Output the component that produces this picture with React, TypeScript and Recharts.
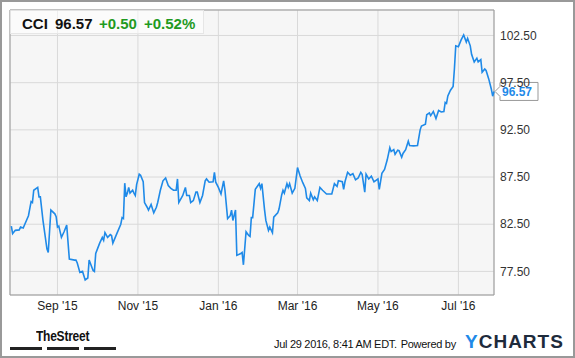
import { LineChart, Line, XAxis, YAxis, CartesianGrid, ReferenceArea, ReferenceDot } from 'recharts'

// daily closes for CCI
const dates = [
  '2015-07-28', '2015-07-29', '2015-07-31', '2015-08-03', '2015-08-04', '2015-08-06', '2015-08-10', '2015-08-12',
  '2015-08-13', '2015-08-14', '2015-08-17', '2015-08-18', '2015-08-19', '2015-08-21', '2015-08-24', '2015-08-25',
  '2015-08-27', '2015-08-30', '2015-08-31', '2015-09-01', '2015-09-02', '2015-09-04', '2015-09-06', '2015-09-08',
  '2015-09-10', '2015-09-14', '2015-09-15', '2015-09-16', '2015-09-18', '2015-09-20', '2015-09-22', '2015-09-24',
  '2015-09-25', '2015-09-28', '2015-09-29', '2015-09-30', '2015-10-03', '2015-10-05', '2015-10-06', '2015-10-07',
  '2015-10-09', '2015-10-11', '2015-10-12', '2015-10-13', '2015-10-16', '2015-10-19', '2015-10-20', '2015-10-21',
  '2015-10-22', '2015-10-23', '2015-10-24', '2015-10-25', '2015-10-26', '2015-10-28', '2015-10-29', '2015-10-30',
  '2015-10-31', '2015-11-02', '2015-11-03', '2015-11-05', '2015-11-06', '2015-11-08', '2015-11-09', '2015-11-11',
  '2015-11-13', '2015-11-15', '2015-11-16', '2015-11-18', '2015-11-20', '2015-11-22', '2015-11-24', '2015-11-26',
  '2015-11-28', '2015-11-30', '2015-12-01', '2015-12-02', '2015-12-05', '2015-12-07', '2015-12-08', '2015-12-10',
  '2015-12-11', '2015-12-13', '2015-12-15', '2015-12-16', '2015-12-18', '2015-12-20', '2015-12-22', '2015-12-23',
  '2015-12-25', '2015-12-28', '2015-12-29', '2015-12-30', '2016-01-01', '2016-01-03', '2016-01-05', '2016-01-06',
  '2016-01-08', '2016-01-10', '2016-01-11', '2016-01-12', '2016-01-14', '2016-01-15', '2016-01-18', '2016-01-19',
  '2016-01-20', '2016-01-22', '2016-01-24', '2016-01-25', '2016-01-26', '2016-01-27', '2016-01-29', '2016-01-31',
  '2016-02-01', '2016-02-02', '2016-02-03', '2016-02-05', '2016-02-06', '2016-02-08', '2016-02-09', '2016-02-11',
  '2016-02-12', '2016-02-15', '2016-02-16', '2016-02-18', '2016-02-19', '2016-02-20', '2016-02-22', '2016-02-23',
  '2016-02-24', '2016-02-26', '2016-02-28', '2016-03-01', '2016-03-03', '2016-03-05', '2016-03-07', '2016-03-08',
  '2016-03-10', '2016-03-11', '2016-03-13', '2016-03-14', '2016-03-16', '2016-03-18', '2016-03-20', '2016-03-23',
  '2016-03-27', '2016-03-29', '2016-03-31', '2016-04-01', '2016-04-04', '2016-04-05', '2016-04-06', '2016-04-08',
  '2016-04-10', '2016-04-12', '2016-04-14', '2016-04-16', '2016-04-18', '2016-04-19', '2016-04-21', '2016-04-22',
  '2016-04-24', '2016-04-26', '2016-04-28', '2016-04-29', '2016-05-01', '2016-05-02', '2016-05-04', '2016-05-06',
  '2016-05-08', '2016-05-10', '2016-05-11', '2016-05-13', '2016-05-14', '2016-05-16', '2016-05-17', '2016-05-19',
  '2016-05-20', '2016-05-22', '2016-05-24', '2016-05-25', '2016-05-28', '2016-05-31', '2016-06-02', '2016-06-03',
  '2016-06-06', '2016-06-07', '2016-06-09', '2016-06-10', '2016-06-12', '2016-06-14', '2016-06-16', '2016-06-18',
  '2016-06-20', '2016-06-21', '2016-06-22', '2016-06-23', '2016-06-25', '2016-06-27', '2016-06-28', '2016-06-29',
  '2016-07-01', '2016-07-03', '2016-07-05', '2016-07-07', '2016-07-08', '2016-07-10', '2016-07-11', '2016-07-13',
  '2016-07-15', '2016-07-16', '2016-07-18', '2016-07-19', '2016-07-21', '2016-07-22', '2016-07-24', '2016-07-26',
  '2016-07-27', '2016-07-28',
]

const prices = [
  82.3, 81.5, 81.85, 81.9, 82.2, 82.1, 83.4, 84.9,
  84.8, 86.1, 86.4, 85.4, 85.4, 82.9, 79.9, 79.5,
  84.0, 83.6, 83.3, 82.2, 82.3, 81.1, 81.7, 82.4,
  78.8, 78.7, 78.7, 78.4, 77.4, 77.5, 76.6, 76.8,
  78.7, 77.6, 77.5, 79.4, 80.5, 81.1, 80.8, 81.6,
  81.1, 81.4, 81.3, 80.5, 81.5, 82.5, 83.2, 83.1,
  86.85, 85.4, 85.8, 86.4, 85.8, 86.1, 85.8, 85.55,
  86.7, 87.8, 87.7, 87.0, 84.8, 84.3, 84.0, 84.6,
  83.7, 84.3, 84.8, 86.1, 87.1, 87.4, 86.6, 86.3,
  86.1, 86.1, 87.3, 84.8, 85.55, 86.4, 85.55, 85.55,
  84.8, 85.0, 85.9, 85.9, 84.8, 85.55, 87.1, 87.3,
  86.95, 87.0, 88.0, 86.95, 86.4, 85.7, 87.1, 86.1,
  83.1, 83.4, 84.0, 82.9, 84.0, 79.2, 79.4, 79.5,
  78.2, 81.7, 81.3, 81.2, 83.2, 83.2, 86.2, 86.6,
  86.8, 86.3, 86.8, 84.05, 82.9, 81.85, 82.2, 81.6,
  83.25, 83.7, 84.1, 85.6, 86.1, 85.8, 86.8, 86.4,
  86.8, 85.8, 86.3, 88.5, 87.6, 86.9, 86.3, 85.3,
  85.0, 85.8, 85.1, 85.4, 85.0, 86.4, 86.1, 85.7,
  85.7, 86.8, 86.5, 87.1, 87.0, 86.2, 87.0, 88.0,
  87.7, 87.85, 87.2, 87.4, 88.0, 87.8, 85.9, 87.8,
  87.3, 87.6, 87.0, 87.1, 87.3, 86.2, 87.9, 88.3,
  89.3, 90.6, 90.2, 90.4, 89.9, 90.35, 90.3, 89.6,
  90.0, 90.4, 91.3, 90.85, 90.8, 90.85, 92.5, 92.9,
  93.1, 94.1, 94.3, 94.0, 94.45, 93.7, 94.55, 94.4,
  94.45, 95.4, 95.3, 96.1, 96.7, 97.1, 99.0, 101.4,
  101.3, 102.0, 102.55, 101.8, 102.2, 101.4, 100.5, 99.7,
  100.1, 99.7, 99.95, 98.6, 98.95, 98.8, 97.9, 96.8,
  96.07, 96.57,
]

const monthTicks = ['2015-09-01', '2015-11-01', '2016-01-01', '2016-03-01', '2016-05-01', '2016-07-01']
const priceTicks = [77.5, 82.5, 87.5, 92.5, 97.5, 102.5]
const monthNames = ['Jan', 'Feb', 'Mar', 'Apr', 'May', 'Jun', 'Jul', 'Aug', 'Sep', 'Oct', 'Nov', 'Dec']

const toTime = (d: string) => {
  const [y, m, day] = d.split('-').map(Number)
  return Date.UTC(y, m - 1, day)
}

const data = dates.map((d, i) => ({ t: toTime(d), price: prices[i] }))
const xDomain = [toTime('2015-07-27'), toTime('2016-07-28')]
const yDomain = [75, 105.2]
const last = data[data.length - 1]

const FONT = '"Liberation Sans", Arial, sans-serif'
const BLUE = '#1f8ae8'
const GREEN = '#1f9a1f'

const fmtMonth = (t: number) => {
  const d = new Date(t)
  return `${monthNames[d.getUTCMonth()]} '${String(d.getUTCFullYear()).slice(2)}`
}

const LastTag = (props: any) => {
  const { cx, cy } = props
  if (cx == null || cy == null) return null
  const x = cx
  const y = cy
  return (
    <g>
      <path
        d={`M${x + 1},${y} L${x + 6},${y - 5} L${x + 6},${y - 9} L${x + 44},${y - 9} L${x + 44},${y + 9} L${x + 6},${y + 9} L${x + 6},${y + 5} Z`}
        fill="#fff"
        stroke="#999"
      />
      <text x={x + 8} y={y + 4.5} fill={BLUE} fontSize={12} fontWeight="bold" fontFamily={FONT}>
        {last.price.toFixed(2)}
      </text>
    </g>
  )
}

export default function App() {
  return (
    <div style={{ position: 'relative', width: 575, height: 358, background: '#fff', fontFamily: FONT }}>
      <style>{'body{margin:0}'}</style>
      <LineChart width={575} height={358} data={data} margin={{ top: 10, left: 10, right: 0, bottom: 0 }}>
        <CartesianGrid stroke="#d9d9d9" fill="#f6f6f6" />
        <XAxis
          dataKey="t"
          type="number"
          domain={xDomain}
          ticks={monthTicks.map(toTime)}
          tickFormatter={fmtMonth}
          height={63}
          axisLine={false}
          tickLine={false}
          tickSize={0}
          tickMargin={6}
          tick={{ fill: '#222', fontSize: 12, fontFamily: FONT }}
        />
        <YAxis
          orientation="right"
          type="number"
          domain={yDomain}
          ticks={priceTicks}
          tickFormatter={(v: number) => v.toFixed(2)}
          width={81}
          axisLine={false}
          tickLine={false}
          tickSize={0}
          tickMargin={6}
          tick={{ fill: '#333', fontSize: 12, fontFamily: FONT }}
        />
        <ReferenceArea x1={xDomain[0]} x2={xDomain[1]} y1={yDomain[0]} y2={yDomain[1]} fill="none" stroke="#999" strokeWidth={1} ifOverflow="visible" />
        <Line type="linear" dataKey="price" stroke={BLUE} strokeWidth={1.6} dot={false} isAnimationActive={false} />
        <ReferenceDot x={last.t} y={last.price} r={0} shape={LastTag} ifOverflow="visible" />
      </LineChart>

      {/* quote header */}
      <div style={{ position: 'absolute', left: 10, top: 10, width: 194, height: 24, background: 'rgba(255,255,255,0.55)', borderRight: '1px solid #e6e6e6', borderBottom: '1px solid #e6e6e6', boxSizing: 'border-box' }} />
      <div style={{ position: 'absolute', left: 22, top: 15, fontSize: 15, fontWeight: 'bold', lineHeight: '17px', whiteSpace: 'nowrap' }}>
        <span style={{ position: 'absolute', left: 0, color: '#111' }}>CCI</span>
        <span style={{ position: 'absolute', left: 33, color: '#111' }}>96.57</span>
        <span style={{ position: 'absolute', left: 77, color: GREEN }}>+0.50</span>
        <span style={{ position: 'absolute', left: 122, color: GREEN }}>+0.52%</span>
      </div>

      {/* footer */}
      <div style={{ position: 'absolute', left: 36, top: 327, fontWeight: 'bold', fontSize: 15, letterSpacing: -0.3, color: '#111', transform: 'scaleX(0.8)', transformOrigin: 'left top', whiteSpace: 'nowrap' }}>TheStreet</div>
      <div style={{ position: 'absolute', left: 10, top: 347, width: 32, height: 3, background: '#222' }} />
      <div style={{ position: 'absolute', left: 47, top: 347, width: 32, height: 3, background: '#222' }} />
      <div style={{ position: 'absolute', left: 84, top: 347, width: 32, height: 3, background: '#222' }} />
      <div style={{ position: 'absolute', left: 274, top: 338, fontSize: 11, letterSpacing: -0.3, color: '#111', whiteSpace: 'nowrap' }}>
        Jul 29 2016, 8:41 AM EDT.<span style={{ marginLeft: 4 }}>Powered by</span>
      </div>
      <div style={{ position: 'absolute', left: 465, top: 331, fontSize: 19, fontWeight: 'bold', letterSpacing: 1, whiteSpace: 'nowrap' }}>
        <span style={{ color: BLUE }}>Y</span>
        <span style={{ color: '#1e2b3c' }}>CHARTS</span>
      </div>

      <div style={{ position: 'absolute', left: 0, top: 0, width: 575, height: 358, border: '2px solid #999', boxSizing: 'border-box', pointerEvents: 'none' }} />
    </div>
  )
}
